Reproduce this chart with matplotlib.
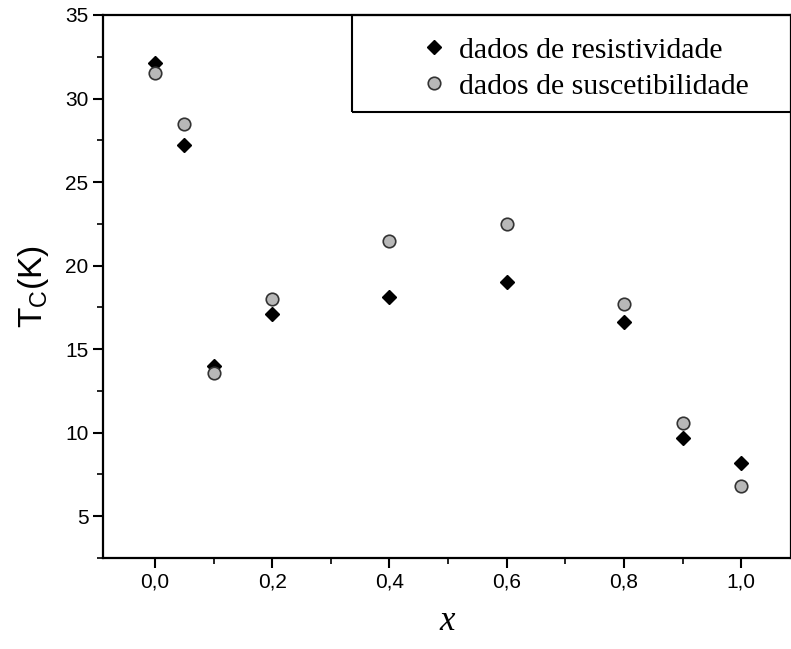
"""
Tc versus x: resistivity and susceptibility data
"""

import matplotlib
matplotlib.use("Agg")
import matplotlib.pyplot as plt
from matplotlib.patches import Rectangle
from matplotlib.ticker import MultipleLocator, FuncFormatter

# data
x_res = [0.0, 0.05, 0.1, 0.2, 0.4, 0.6, 0.8, 0.9, 1.0]
tc_res = [32.1, 27.2, 14.0, 17.1, 18.1, 19.0, 16.6, 9.7, 8.2]

x_sus = [0.0, 0.05, 0.1, 0.2, 0.4, 0.6, 0.8, 0.9, 1.0]
tc_sus = [31.5, 28.5, 13.6, 18.0, 21.5, 22.5, 17.7, 10.6, 6.8]

labels = ["dados de resistividade", "dados de suscetibilidade"]

plt.rcParams['font.family'] = ['Liberation Sans', 'DejaVu Sans']

fig = plt.figure(figsize=(7.91, 6.49), dpi=100)
ax = fig.add_axes([103/791, 91/649, 688/791, 543/649])

ax.plot(x_res, tc_res, linestyle='none', marker='D', ms=7.5,
        mfc='black', mec='black', label=labels[0])
ax.plot(x_sus, tc_sus, linestyle='none', marker='o', ms=9,
        mfc='#b8b8b8', mec='#333333', mew=1.2, label=labels[1])

ax.set_xlim(-0.0887, 1.085)
ax.set_ylim(2.5, 35)

ax.xaxis.set_major_locator(MultipleLocator(0.2))
ax.xaxis.set_minor_locator(MultipleLocator(0.1))
ax.yaxis.set_major_locator(MultipleLocator(5))
ax.yaxis.set_minor_locator(MultipleLocator(2.5))
ax.xaxis.set_major_formatter(FuncFormatter(lambda v, p: f"{v:.1f}".replace('.', ',')))
ax.yaxis.set_major_formatter(FuncFormatter(lambda v, p: f"{v:.0f}"))

ax.tick_params(which='major', direction='out', length=7, width=1.5,
               labelsize=15, top=False, right=False)
ax.tick_params(which='minor', direction='out', length=4, width=1.2,
               top=False, right=False)
for s in ax.spines.values():
    s.set_linewidth(1.6)

ax.set_ylabel(r'T$_\mathregular{C}$(K)', fontsize=24, labelpad=10)
ax.set_xlabel('x', fontsize=25, family=['Liberation Serif'], style='italic',
              labelpad=10)

leg = ax.legend(loc='upper left', bbox_to_anchor=(419/791, 1 - 37/649),
                bbox_transform=fig.transFigure, frameon=False,
                borderpad=0, borderaxespad=0, handlelength=1.0,
                handletextpad=0.35, labelspacing=0.3,
                prop={'family': 'Liberation Serif', 'size': 21.5})

# legend frame, open on the right like the reference
ax.add_patch(Rectangle((0.362, 0.821), 0.66, 0.179, transform=ax.transAxes,
                       fill=False, edgecolor='black', linewidth=1.5,
                       clip_on=False, zorder=3))

fig.savefig("out.png", dpi=100)
